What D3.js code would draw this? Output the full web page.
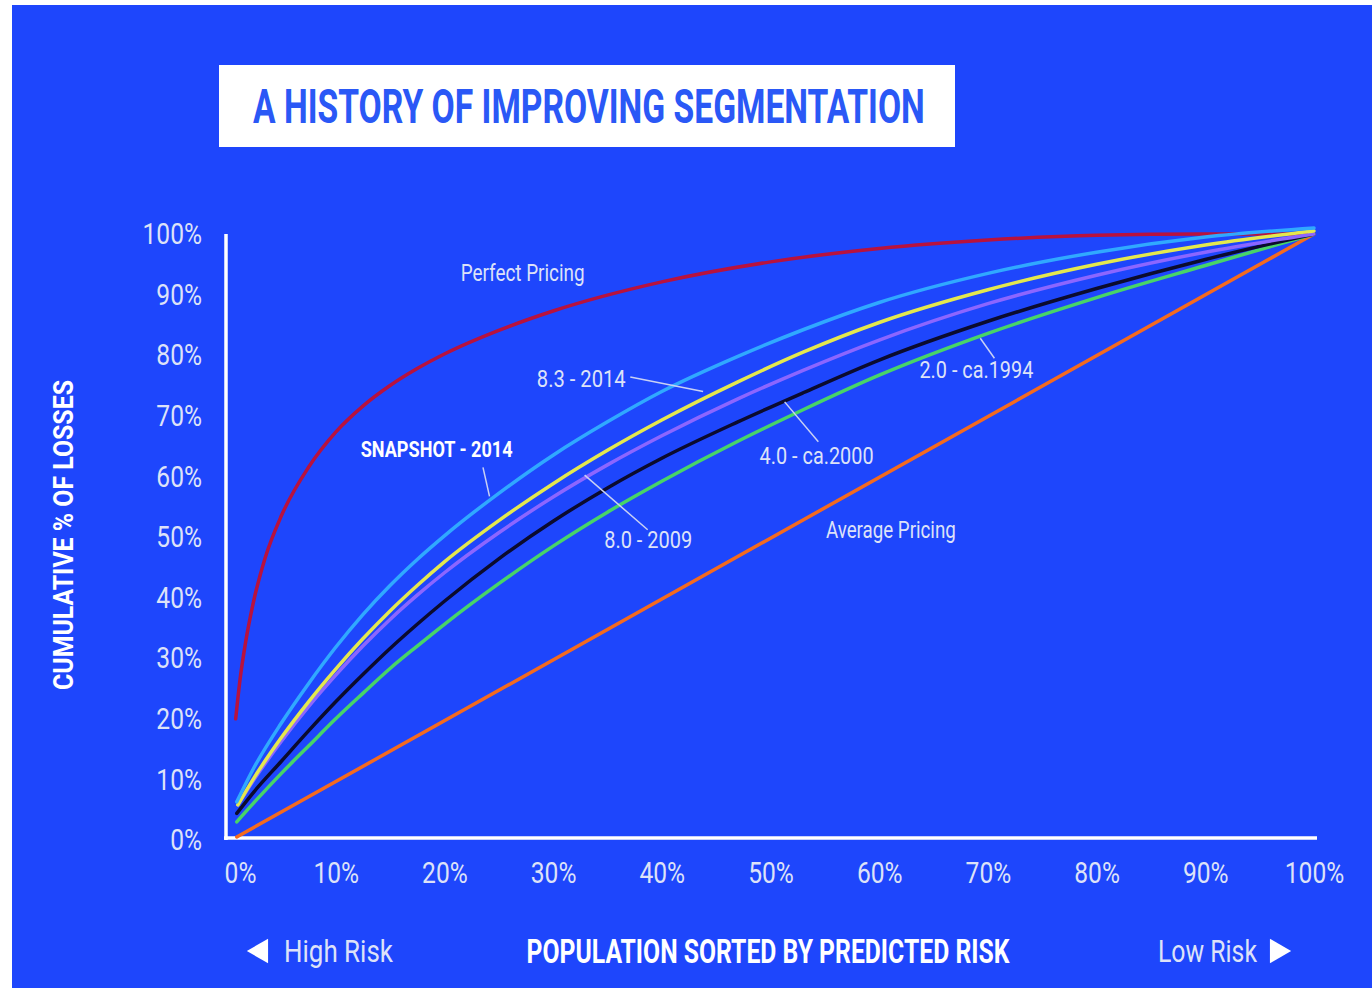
<!DOCTYPE html>
<html>
<head>
<meta charset="utf-8">
<script src="https://cdn.jsdelivr.net/npm/d3@7"></script>
<style>
  body { margin: 0; background: #fff; }
  svg { display: block; }
  text { font-family: Roboto, "Noto Sans", sans-serif; }
</style>
</head>
<body>
<script>
// tick values (percent)
const xTicks = [0, 10, 20, 30, 40, 50, 60, 70, 80, 90, 100];
const yTicks = [0, 10, 20, 30, 40, 50, 60, 70, 80, 90, 100];

// [population %, cumulative % of losses]
const perfectPricing = [[0.8, 20], [1.2, 26.5], [1.7, 32.5], [2.4, 39], [3.5, 46.5], [5, 53.5], [7.5, 61.5], [10, 67.3],
  [12.5, 71.6], [15, 75], [17.5, 77.8], [20, 80.2], [25, 84.1], [30, 87.3], [40, 92.1], [50, 95.4], [60, 97.6],
  [70, 99], [80, 99.8], [90, 100], [100, 100]];
const snapshot2014 = [[0.9, 6.3], [2.5, 12], [5, 19.3], [7.5, 25.8], [10, 31.8], [12.5, 37.2], [15, 42], [17.5, 46.3],
  [20, 50.2], [25, 57.2], [30, 63.5], [35, 69], [40, 74], [47, 79.8], [53, 84.2], [60, 88.7], [70, 93.5],
  [80, 97], [90, 99.5], [100, 101]];
const model83 = [[1, 5.8], [2.5, 10.3], [5, 16.9], [7.5, 22.8], [10, 28.2], [12.5, 33.2], [15, 37.8], [17.5, 42],
  [20, 45.9], [25, 52.7], [30, 58.8], [35, 64.3], [40, 69.3], [47, 75.6], [53, 80.5], [60, 85.4], [70, 90.8],
  [80, 95], [90, 98.2], [100, 100.5]];
const model80 = [[1, 5.8], [2.5, 10], [5, 16.3], [7.5, 22], [10, 27.2], [12.5, 32], [15, 36.4], [17.5, 40.4],
  [20, 44.1], [25, 50.7], [30, 56.6], [35, 61.9], [40, 66.7], [47, 72.8], [53, 77.5], [60, 82.5], [70, 88.5],
  [80, 93.2], [90, 97], [100, 100]];
const model40 = [[0.9, 4.4], [2.5, 8], [5, 13], [7.5, 18], [10, 22.8], [12.5, 27.3], [15, 31.6], [17.5, 35.6],
  [20, 39.4], [25, 46.4], [30, 52.6], [35, 58.1], [40, 63], [47, 69], [53, 73.8], [60, 79.2], [70, 85.6],
  [80, 91], [90, 95.8], [100, 100]];
const model20 = [[0.9, 3], [2.5, 6.2], [5, 11], [7.5, 15.5], [10, 20], [12.5, 24.2], [15, 28.3], [17.5, 32],
  [20, 35.6], [25, 42.3], [30, 48.5], [35, 54.1], [40, 59.2], [47, 65.8], [53, 71], [60, 76.7], [70, 83.6],
  [80, 89.5], [90, 94.8], [100, 100]];
const averagePricing = [[0.9, 0.5], [100, 100]];

// label text, anchor point [x%, y%], leader line [[x%, y%], [x%, y%]] or null
const labelNames = ["Perfect Pricing", "8.3 - 2014", "SNAPSHOT - 2014", "8.0 - 2009", "4.0 - ca.2000", "2.0 - ca.1994", "Average Pricing"];
const labelAnchors = [[21.5, 93.7], [28.5, 76.1], [12.3, 64.4], [34.7, 49.5], [49.0, 63.4], [63.7, 77.6], [55.1, 51.3]];
const labelLeaders = [null, [[37.1, 76.4], [43.8, 74.0]], [[23.55, 61.5], [24.15, 56.7]], [[32.9, 60.2], [38.7, 51.2]],
  [[51.3, 72.3], [54.4, 65.7]], [[69.3, 82.8], [70.6, 79.5]], null];

const W = 1372, H = 991;
const blue = "#1e46fc";
const pale = "#dde2f8";

const svg = d3.select("body").append("svg").attr("width", W).attr("height", H);

svg.append("rect").attr("x", 12).attr("y", 5).attr("width", W - 12).attr("height", 983).attr("fill", blue);

// squash text horizontally (condensed look): to a target width, or by a factor
function squeeze(sel, factor, width) {
  sel.each(function() {
    const t = d3.select(this);
    const f = width ? width / this.getComputedTextLength() : factor;
    const x0 = +(t.attr("x") || 0);
    const dx = parseFloat(t.attr("dx") || 0);
    t.attr("x", x0 / f).attr("dx", dx / f)
      .attr("transform", (t.attr("transform") || "") + ` scale(${f},1)`);
  });
}

// title box
svg.append("rect").attr("x", 219).attr("y", 65).attr("width", 736).attr("height", 82).attr("fill", "#fff");
svg.append("text").attr("x", 253).attr("y", 123)
  .attr("font-size", 48).attr("font-weight", 700).attr("fill", "#2a58f6")
  .text("A HISTORY OF IMPROVING SEGMENTATION")
  .call(squeeze, 0, 672);

const x = d3.scaleLinear().domain([0, 100]).range([227, 1314]);
const y = d3.scaleLinear().domain([0, 100]).range([840, 234]);

// axes lines
svg.append("line").attr("x1", x(0) - 1).attr("x2", x(0) - 1).attr("y1", y(100)).attr("y2", y(0))
  .attr("stroke", "#fff").attr("stroke-width", 3.5);
svg.append("line").attr("x1", x(0) - 3).attr("x2", x(100) + 3).attr("y1", y(0) - 2).attr("y2", y(0) - 2)
  .attr("stroke", "#fff").attr("stroke-width", 3.5);

// tick labels
const yAxis = svg.append("g").attr("transform", `translate(${x(0) - 1},0)`)
  .call(d3.axisLeft(y).tickValues(yTicks).tickFormat(d => d + "%").tickSize(0).tickPadding(24));
const xAxis = svg.append("g").attr("transform", `translate(0,${y(0) + 32})`)
  .call(d3.axisBottom(x).tickValues(xTicks).tickFormat(d => d + "%").tickSize(0).tickPadding(0));
xAxis.selectAll("text").attr("dy", "0.35em");
xAxis.select(".tick text").attr("dx", 13);
[yAxis, xAxis].forEach(g => {
  g.select(".domain").remove();
  g.selectAll("text").attr("font-size", 30).attr("fill", pale).attr("font-family", "Roboto")
    .call(squeeze, 0.82);
});

// curves
const line = d3.line().x(d => x(d[0])).y(d => y(d[1])).curve(d3.curveMonotoneX);
const series = [
  { data: perfectPricing, color: "#b8123e" },
  { data: averagePricing, color: "#f56a1e" },
  { data: model20, color: "#48d468" },
  { data: model40, color: "#0b0b2e" },
  { data: model80, color: "#8c66ff" },
  { data: model83, color: "#e4e84e" },
  { data: snapshot2014, color: "#30a9ff" }
];
svg.append("g").selectAll("path").data(series).join("path")
  .attr("d", d => line(d.data))
  .attr("fill", "none")
  .attr("stroke", d => d.color)
  .attr("stroke-width", 3.5)
  .attr("stroke-linecap", "round");

// curve labels
const ann = svg.append("g");
ann.selectAll("line").data(labelLeaders.filter(d => d)).join("line")
  .attr("x1", d => x(d[0][0])).attr("y1", d => y(d[0][1]))
  .attr("x2", d => x(d[1][0])).attr("y2", d => y(d[1][1]))
  .attr("stroke", "#c9d1f4").attr("stroke-width", 1.5);
const labelWidths = [124, 89, 152, 88, 114, 114, 130];
ann.selectAll("text").data(labelNames).join("text")
  .attr("x", (d, i) => x(labelAnchors[i][0]))
  .attr("y", (d, i) => y(labelAnchors[i][1]))
  .attr("dy", "0.35em")
  .attr("font-size", d => d.startsWith("SNAP") ? 22 : 24)
  .attr("font-weight", d => d.startsWith("SNAP") ? 700 : 400)
  .attr("fill", d => d.startsWith("SNAP") ? "#fff" : pale)
  .text(d => d)
  .each(function(d, i) { d3.select(this).call(squeeze, 0, labelWidths[i]); });

// axis titles
svg.append("text").attr("transform", "translate(73,535) rotate(-90)")
  .attr("text-anchor", "middle").attr("font-size", 28).attr("font-weight", 700).attr("fill", "#fff")
  .text("CUMULATIVE % OF LOSSES").call(squeeze, 0, 310);
svg.append("text").attr("x", 768).attr("y", 963)
  .attr("text-anchor", "middle").attr("font-size", 34).attr("font-weight", 700).attr("fill", "#fff")
  .text("POPULATION SORTED BY PREDICTED RISK").call(squeeze, 0, 483);
svg.append("text").attr("x", 284).attr("y", 962)
  .attr("font-size", 32).attr("fill", pale).text("High Risk").call(squeeze, 0, 109);
svg.append("text").attr("x", 1158).attr("y", 962)
  .attr("font-size", 32).attr("fill", pale).text("Low Risk").call(squeeze, 0, 99);

const tri = d3.symbol().type(d3.symbolTriangle).size(260);
svg.append("path").attr("d", tri).attr("fill", "#fff").attr("transform", "translate(261,951) rotate(-90)");
svg.append("path").attr("d", tri).attr("fill", "#fff").attr("transform", "translate(1277,951) rotate(90)");
</script>
</body>
</html>
